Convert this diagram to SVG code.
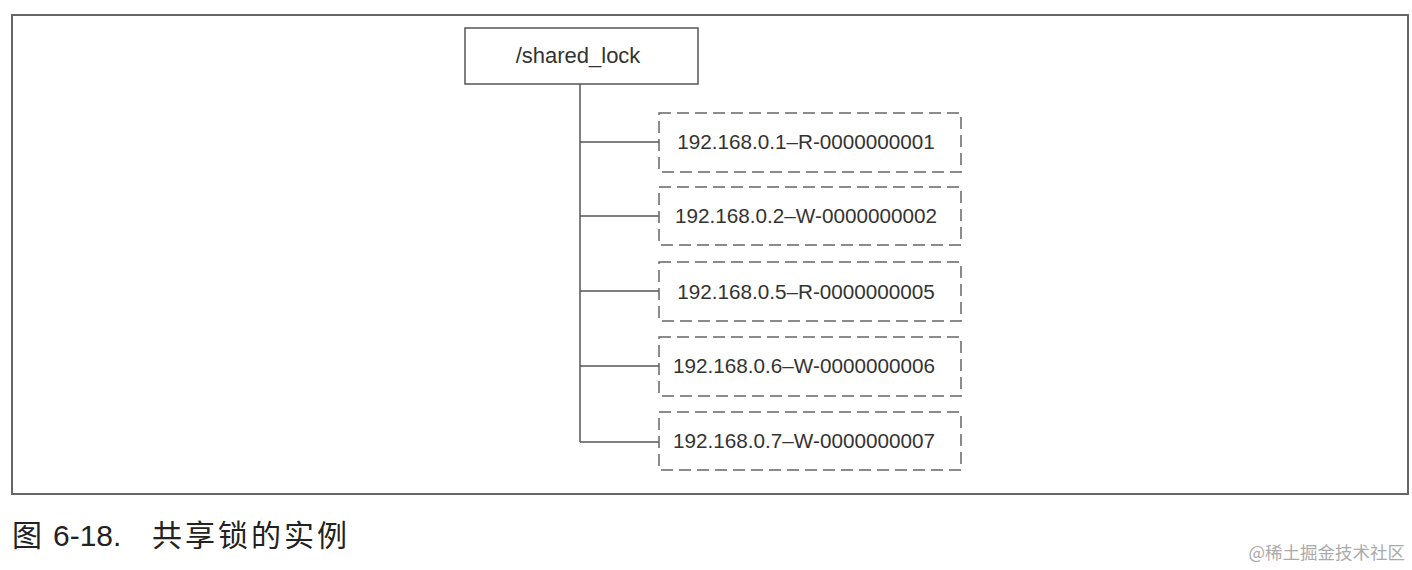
<svg xmlns="http://www.w3.org/2000/svg" width="1412" height="570" viewBox="0 0 1412 570">
<style>
.t{font-family:"Liberation Sans",Arial,sans-serif;font-size:20.7px;fill:#333;text-anchor:middle;dominant-baseline:central}
.d{fill:#fff;stroke:#666;stroke-width:1.5;stroke-dasharray:12,6}
.c{stroke:#555;stroke-width:1.5;fill:none}
.cap{font-family:"Liberation Sans","Noto Sans CJK SC",sans-serif;font-size:30px;fill:#222}
</style>
<rect width="1412" height="570" fill="#fff"/>
<rect x="12" y="15" width="1396" height="479" fill="none" stroke="#666" stroke-width="2"/>
<g id="connectors">
<path class="c" d="M580 84V442M580 142H660M580 216H660M580 291H660M580 366H660M580 442H660"/>
</g>
<g id="root">
<rect x="465" y="28" width="233" height="56" fill="#fff" stroke="#555" stroke-width="1.5"/>
<text class="t" x="578" y="55" style="font-size:22px">/shared_lock</text>
</g>
<g id="n1"><rect class="d" x="659" y="113" width="302" height="59"/><text class="t" x="806" y="141">192.168.0.1–R-0000000001</text></g>
<g id="n2"><rect class="d" x="659" y="187" width="302" height="58"/><text class="t" x="806" y="215">192.168.0.2–W-0000000002</text></g>
<g id="n3"><rect class="d" x="659" y="262" width="302" height="59"/><text class="t" x="806" y="291">192.168.0.5–R-0000000005</text></g>
<g id="n4"><rect class="d" x="659" y="337" width="302" height="59"/><text class="t" x="804" y="365">192.168.0.6–W-0000000006</text></g>
<g id="n5"><rect class="d" x="659" y="412" width="302" height="58"/><text class="t" x="804" y="440">192.168.0.7–W-0000000007</text></g>
<text class="cap" y="546"><tspan x="12">图</tspan><tspan x="53">6-18.</tspan><tspan x="152" letter-spacing="3">共享锁的实例</tspan></text>
<text x="1405" y="559" text-anchor="end" font-family="'Noto Sans CJK SC',sans-serif" font-size="17.5" fill="#aaa">@稀土掘金技术社区</text>
</svg>
